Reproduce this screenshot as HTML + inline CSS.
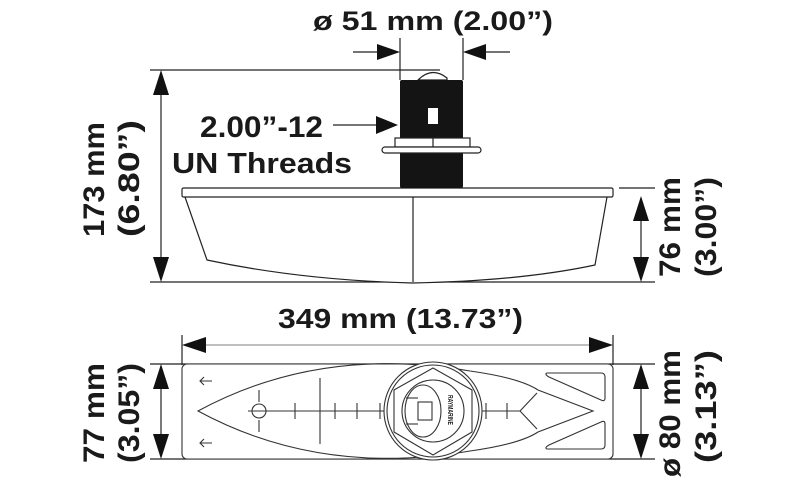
<!DOCTYPE html>
<html><head><meta charset="utf-8"><style>
html,body{margin:0;padding:0;background:#fff}
svg{display:block}
text{font-family:"Liberation Sans",sans-serif;font-weight:bold;fill:#1a1a1a}
</style></head><body>
<svg width="800" height="500" viewBox="0 0 800 500" xmlns="http://www.w3.org/2000/svg">
<g stroke="#222" fill="none" stroke-width="1.2">
<line x1="150" y1="70" x2="440" y2="70"/>
<line x1="150" y1="282" x2="655" y2="282"/>
<line x1="619" y1="188" x2="655" y2="188"/>
<line x1="400" y1="38" x2="400" y2="80"/>
<line x1="463" y1="38" x2="463" y2="80"/>
<line x1="353" y1="52" x2="380" y2="52"/>
<line x1="483" y1="52" x2="510" y2="52"/>
<line x1="333" y1="125" x2="378" y2="125"/>
<line x1="161" y1="94" x2="161" y2="258"/>
<line x1="641" y1="220" x2="641" y2="258"/>
<line x1="182" y1="335" x2="182" y2="365"/>
<line x1="613" y1="335" x2="613" y2="365"/>
<line x1="204" y1="345" x2="591" y2="345" stroke="#999"/>
<line x1="150" y1="364" x2="655" y2="364"/>
<line x1="150" y1="459" x2="655" y2="459"/>
<line x1="161" y1="388" x2="161" y2="435"/>
<line x1="641" y1="388" x2="641" y2="435"/>
</g>
<g fill="#111">
<path d="M161,70 L153,95 L169,95 z"/><path d="M161,282 L153,257 L169,257 z"/>
<path d="M641,196 L633,221 L649,221 z"/><path d="M641,282 L633,257 L649,257 z"/>
<path d="M400,52 L377,44 L377,60 z"/><path d="M463,52 L486,44 L486,60 z"/>
<path d="M398,125 L376,116 L376,134 z"/>
<path d="M182,345 L206,337 L206,353 z"/><path d="M613,345 L589,337 L589,353 z"/>
<path d="M161,364 L153,389 L169,389 z"/><path d="M161,459 L153,434 L169,434 z"/>
<path d="M641,364 L633,389 L649,389 z"/><path d="M641,459 L633,434 L649,434 z"/>
</g>
<g stroke="#222" stroke-width="1.2" fill="#fff">
<path d="M185,197 L207,260 Q300,280 412,283 Q520,281 595,265 L607,197"/>
<line x1="413" y1="197" x2="413" y2="282"/>
<rect x="182" y="188" width="431" height="9" rx="1.5"/>
<path d="M418,80 Q432,66 447,78 L447,80 z"/>
</g>
<rect x="400" y="80" width="63" height="108" fill="#141414" rx="2"/>
<rect x="428" y="108" width="10" height="16" fill="#fff"/>
<g stroke="#222" stroke-width="1.2" fill="#fff">
<rect x="395" y="138" width="75" height="9"/>
<line x1="433" y1="138" x2="433" y2="147"/>
<rect x="382" y="147" width="99" height="6" rx="3"/>
</g>
<g stroke="#333" stroke-width="1.1" fill="none">
<rect x="182" y="364" width="431" height="95" rx="5" fill="#fff"/>
<path d="M198,411 Q320,345 470,371 Q520,378 538,390 L593,411 L538,432 Q520,444 470,451 Q320,477 198,411 z"/>
<path d="M547,373 L601,373 Q605,373 605,377 L605,398 Q605,402 601,400 L549,377 Q544,374 547,373 z"/>
<path d="M547,449 L601,449 Q605,449 605,445 L605,424 Q605,420 601,422 L549,445 Q544,448 547,449 z"/>
<line x1="248" y1="411" x2="395" y2="411"/>
<line x1="471" y1="411" x2="520" y2="411"/>
<path d="M520,411 L537,393 M520,411 L537,429"/>
<circle cx="259" cy="411" r="7"/>
<line x1="259" y1="390" x2="259" y2="402"/><line x1="259" y1="420" x2="259" y2="432"/>
<line x1="320" y1="378" x2="320" y2="444"/>
<line x1="295" y1="403" x2="295" y2="419"/>
<line x1="335" y1="403" x2="335" y2="419"/>
<line x1="357" y1="403" x2="357" y2="419"/>
<line x1="380" y1="403" x2="380" y2="419"/>
<line x1="486" y1="403" x2="486" y2="419"/>
<line x1="507" y1="403" x2="507" y2="419"/>
<path d="M212,381 L200,381 M204,377 L200,381 L204,385"/>
<path d="M212,443 L200,443 M204,439 L200,443 L204,447"/>
<circle cx="433" cy="411" r="49" fill="#fff"/>
<circle cx="433" cy="411" r="46"/>
<path d="M433,368 L472,390 L472,432 L433,455 L394,432 L394,390 z"/>
<circle cx="433" cy="411" r="31"/>
<ellipse cx="423" cy="411" rx="18" ry="26"/>
<rect x="418" y="402" width="14" height="18"/>
<line x1="406" y1="398" x2="418" y2="398"/><line x1="406" y1="424" x2="418" y2="424"/>
</g>
<text x="448" y="395" font-size="7" transform="rotate(90 448 395)" textLength="30" lengthAdjust="spacingAndGlyphs">RAYMARINE</text>
<text x="313" y="30" font-size="27" textLength="240" lengthAdjust="spacingAndGlyphs">ø 51 mm (2.00”)</text>
<text x="200" y="137" font-size="30" textLength="123" lengthAdjust="spacingAndGlyphs">2.00”-12</text>
<text x="172" y="173" font-size="29" textLength="180" lengthAdjust="spacingAndGlyphs">UN Threads</text>
<text x="278" y="328" font-size="28" textLength="245" lengthAdjust="spacingAndGlyphs">349 mm (13.73”)</text>
<text transform="translate(104,237) rotate(-90)" font-size="30" textLength="115" lengthAdjust="spacingAndGlyphs">173 mm</text>
<text transform="translate(139,237) rotate(-90)" font-size="30" textLength="117" lengthAdjust="spacingAndGlyphs">(6.80”)</text>
<text transform="translate(680,277) rotate(-90)" font-size="30" textLength="100" lengthAdjust="spacingAndGlyphs">76 mm</text>
<text transform="translate(716,277) rotate(-90)" font-size="30" textLength="100" lengthAdjust="spacingAndGlyphs">(3.00”)</text>
<text transform="translate(104,463) rotate(-90)" font-size="30" textLength="100" lengthAdjust="spacingAndGlyphs">77 mm</text>
<text transform="translate(139,463) rotate(-90)" font-size="30" textLength="100" lengthAdjust="spacingAndGlyphs">(3.05”)</text>
<text transform="translate(680,477) rotate(-90)" font-size="30" textLength="127" lengthAdjust="spacingAndGlyphs">ø 80 mm</text>
<text transform="translate(716,463) rotate(-90)" font-size="30" textLength="113" lengthAdjust="spacingAndGlyphs">(3.13”)</text>
</svg>
</body></html>
